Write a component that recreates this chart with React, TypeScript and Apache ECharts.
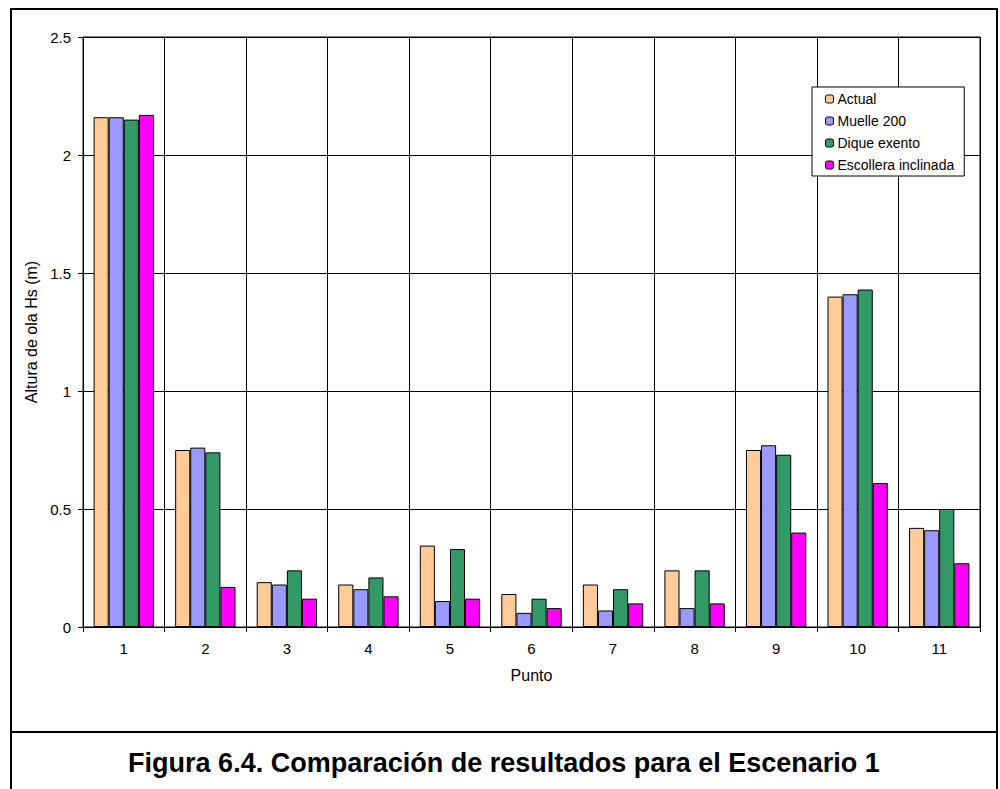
import React, { useEffect, useRef } from "react";
import * as echarts from "echarts";

const puntos = ["1", "2", "3", "4", "5", "6", "7", "8", "9", "10", "11"];
const actual = [2.16, 0.75, 0.19, 0.18, 0.345, 0.14, 0.18, 0.24, 0.75, 1.40, 0.42];
const muelle200 = [2.16, 0.76, 0.18, 0.16, 0.11, 0.06, 0.07, 0.08, 0.77, 1.41, 0.41];
const diqueExento = [2.15, 0.74, 0.24, 0.21, 0.33, 0.12, 0.16, 0.24, 0.73, 1.43, 0.50];
const escolleraInclinada = [2.17, 0.17, 0.12, 0.13, 0.12, 0.08, 0.10, 0.10, 0.40, 0.61, 0.27];

const seriesNames = ["Actual", "Muelle 200", "Dique exento", "Escollera inclinada"];
const seriesColors = ["#FFCC99", "#9999FF", "#339966", "#FF00FF"];
const seriesData = [actual, muelle200, diqueExento, escolleraInclinada];

const FONT = "'Liberation Sans', Arial, sans-serif";

export default function App() {
  const ref = useRef<HTMLDivElement>(null);

  useEffect(() => {
    if (!ref.current) return;
    const chart = echarts.init(ref.current, null, { renderer: "svg" });
    chart.setOption({
      animation: false,
      backgroundColor: "#ffffff",
      textStyle: { fontFamily: FONT },
      grid: {
        left: 83,
        right: 20,
        top: 37,
        bottom: 162,
        show: true,
        borderColor: "#000",
        borderWidth: 1,
      },
      legend: {
        orient: "vertical",
        left: 812,
        top: 87,
        width: 154,
        padding: [5, 10, 4, 13],
        itemGap: 8,
        itemWidth: 8,
        itemHeight: 8,
        backgroundColor: "#fff",
        borderColor: "#000",
        borderWidth: 1,
        borderRadius: 0,
        itemStyle: { borderColor: "#000", borderWidth: 1 },
        textStyle: { fontFamily: FONT, fontSize: 14, color: "#000", padding: [0, 0, 0, -1] },
        data: seriesNames,
      },
      xAxis: {
        type: "category",
        data: puntos,
        name: "Punto",
        nameLocation: "middle",
        nameGap: 40,
        nameTextStyle: { fontFamily: FONT, fontSize: 16, color: "#000" },
        axisLine: { lineStyle: { color: "#000", width: 1 } },
        axisTick: { show: true, length: 5, lineStyle: { color: "#000" } },
        axisLabel: { fontFamily: FONT, fontSize: 15, color: "#000", margin: 14 },
        splitLine: { show: true, lineStyle: { color: "#000", width: 1 } },
      },
      yAxis: {
        type: "value",
        min: 0,
        max: 2.5,
        interval: 0.5,
        name: "Altura de ola Hs (m)",
        nameLocation: "middle",
        nameGap: 43,
        nameTextStyle: { fontFamily: FONT, fontSize: 16, color: "#000" },
        axisLine: { show: true, lineStyle: { color: "#000", width: 1 } },
        axisTick: { show: true, length: 5, lineStyle: { color: "#000" } },
        axisLabel: { fontFamily: FONT, fontSize: 15, color: "#000", margin: 12 },
        splitLine: { show: true, lineStyle: { color: "#000", width: 1 } },
      },
      series: seriesData.map((d, i) => ({
        name: seriesNames[i],
        type: "bar",
        data: d,
        barGap: "0%",
        barCategoryGap: "26%",
        itemStyle: { color: seriesColors[i], borderColor: "#000", borderWidth: 1 },
      })),
      graphic: [
        {
          type: "rect",
          shape: { x: 11, y: 9, width: 986, height: 800 },
          style: { fill: "none", stroke: "#000", lineWidth: 2 },
          silent: true,
        },
        {
          type: "line",
          shape: { x1: 11, y1: 732, x2: 997, y2: 732 },
          style: { stroke: "#000", lineWidth: 2 },
          silent: true,
        },
        {
          type: "text",
          x: 504,
          y: 763,
          style: {
            text: "Figura 6.4. Comparación de resultados para el Escenario 1",
            fontFamily: FONT,
            fontSize: 27,
            fontWeight: "bold",
            fill: "#000",
            align: "center",
            verticalAlign: "middle",
          },
        },
      ],
    });
    return () => chart.dispose();
  }, []);

  return (
    <div
      ref={ref}
      style={{ position: "fixed", left: 0, top: 0, width: 1000, height: 789 }}
    />
  );
}
